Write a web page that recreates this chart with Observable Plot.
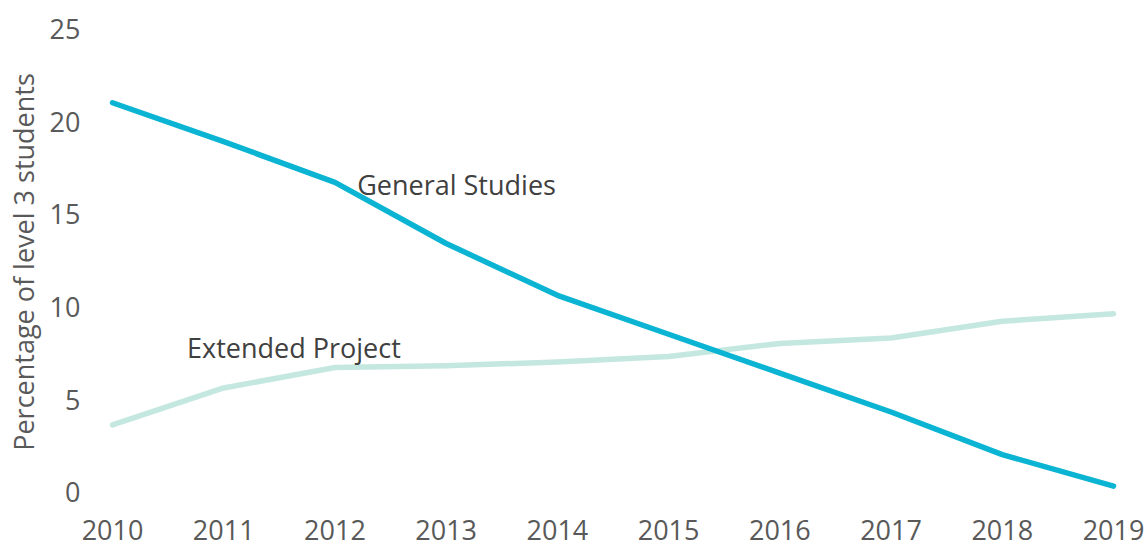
<!DOCTYPE html>
<html>
<head>
<meta charset="utf-8">
<script src="https://cdn.jsdelivr.net/npm/d3@7"></script>
<script src="https://cdn.jsdelivr.net/npm/@observablehq/plot@0.6"></script>
<style>
  html, body { margin: 0; padding: 0; background: #fff; }
  #chart svg { display: block; }
</style>
</head>
<body>
<div id="chart"></div>
<script>
const years = [2010, 2011, 2012, 2013, 2014, 2015, 2016, 2017, 2018, 2019];
const generalStudies = [21.1, 19.0, 16.8, 13.5, 10.7, 8.6, 6.5, 4.4, 2.1, 0.4];
const extendedProject = [3.7, 5.7, 6.8, 6.9, 7.1, 7.4, 8.1, 8.4, 9.3, 9.7];
const seriesNames = ["General Studies", "Extended Project"];
const labelX = [2012.2, 2010.67];
const labelY = [16.6, 7.8];
const yTicks = [0, 5, 10, 15, 20, 25];

const rows = [];
years.forEach((yr, i) => {
  rows.push({year: yr, value: generalStudies[i], series: seriesNames[0]});
  rows.push({year: yr, value: extendedProject[i], series: seriesNames[1]});
});
const labels = seriesNames.map((s, i) => ({name: s, x: labelX[i], y: labelY[i]}));

const font = "'Open Sans', sans-serif";
const chart = Plot.plot({
  width: 1146,
  height: 548,
  marginLeft: 112,
  marginRight: 33,
  marginTop: 30,
  marginBottom: 55,
  style: {fontFamily: font, fontSize: "27px", color: "#595959", background: "#fff"},
  x: {domain: [2010, 2019]},
  y: {domain: [0, 25]},
  color: {domain: seriesNames, range: ["#0AB4D2", "#C4E8E0"]},
  marks: [
    Plot.axisX({ticks: years, tickFormat: d3.format("d"), tickSize: 0, tickPadding: 27, label: null, fontSize: 27, fill: "#595959"}),
    Plot.axisY({ticks: yTicks, tickSize: 0, tickPadding: 32, label: "Percentage of level 3 students", labelAnchor: "center", labelArrow: "none", labelOffset: 98, fontSize: 27, fill: "#595959"}),
    Plot.line(rows.filter(d => d.series === seriesNames[1]), {x: "year", y: "value", stroke: "series", strokeWidth: 5.5}),
    Plot.line(rows.filter(d => d.series === seriesNames[0]), {x: "year", y: "value", stroke: "series", strokeWidth: 5.5}),
    Plot.text(labels, {x: "x", y: "y", text: "name", textAnchor: "start", fontSize: 27, fill: "#404040"})
  ]
});
document.getElementById("chart").appendChild(chart);
</script>
</body>
</html>
